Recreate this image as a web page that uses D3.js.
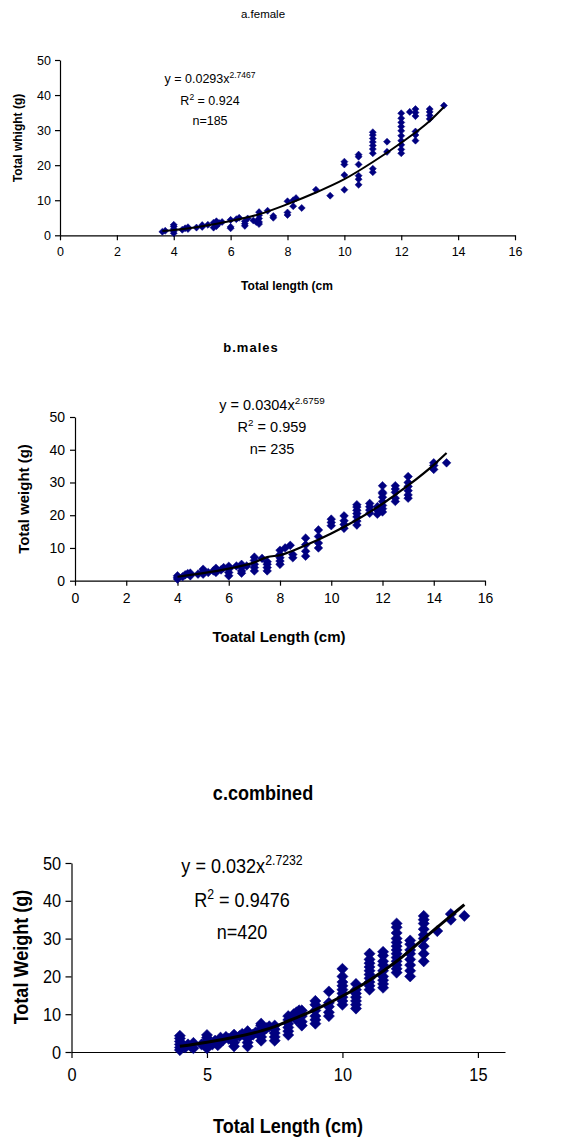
<!DOCTYPE html>
<html><head><meta charset="utf-8">
<script src="https://cdn.jsdelivr.net/npm/d3@7"></script>
<style>body{margin:0;background:#fff}svg{display:block}text{font-family:"Liberation Sans",Arial,sans-serif;fill:#000}</style>
</head><body><svg id="c" width="565" height="1143"></svg>
<script>
// ---------- DATA ----------
const xTicksAB = [0,2,4,6,8,10,12,14,16];
const xTicksC = [0,5,10,15];
const yTicks = [0,10,20,30,40,50];

// a. female: total length (cm), total weight (g)
const femaleLength = [3.6,3.7,4,4,4,4,4,4.3,4.4,4.5,4.5,4.8,5,5,5.2,5.4,5.4,5.5,5.5,5.6,5.7,6,6,6,6.2,6.3,6.5,6.5,6.5,6.6,6.8,6.9,7,7,7,7,7,7.3,7.5,7.5,8,8,8,8.2,8.2,8.3,8.5,9,9.5,10,10,10,10,10.5,10.5,10.5,10.5,10.5,10.5,11,11,11,11,11,11,11,11,11,11.5,11.5,12,12,12,12,12,12,12,12,12,12,12.3,12.5,12.5,12.5,12.5,12.5,12.5,13,13,13,13,13.5];
const femaleWeight = [1.0,1.3,0.6,1.2,1.8,2.5,3.0,1.6,2.0,1.8,2.3,2.2,2.4,2.9,3.0,2.2,3.6,2.6,4.0,3.5,3.8,2.0,2.4,4.4,4.6,5.0,2.7,3.3,4.0,4.8,4.2,3.8,3.2,3.8,4.8,5.7,6.6,7.0,5.0,5.5,5.8,6.5,9.7,8.3,10.0,10.6,7.8,13.0,11.3,13.0,17.2,20.2,21.0,14.4,16.0,17.0,20.2,22.4,23.0,18.0,19.0,23.4,24.6,25.6,26.6,27.6,28.6,29.4,23.8,26.7,23.4,24.5,25.8,27.0,28.4,29.8,31.0,32.2,33.4,34.8,35.2,27.0,28.6,29.6,34.0,35.0,36.0,33.2,34.2,35.2,36.0,37.0];
const femaleTrendX = [3.6,4,5,6,7,8,9,10,11,12,13,13.5];
const femaleTrendY = [1.2,1.5,2.6,4.1,6.0,8.9,12.2,16.0,20.9,26.4,32.6,36.6];

// b. males
const maleLength = [4,4,4,4.2,4.3,4.4,4.5,4.5,4.8,5,5,5,5.2,5.4,5.5,5.5,5.7,5.8,6,6,6,6,6.3,6.5,6.5,6.5,6.5,6.7,7,7,7,7,7,7.3,7.5,7.5,7.5,7.5,8,8,8,8,8,8.2,8.4,8.5,8.5,9,9,9,9,9.5,9.5,9.5,9.5,10,10,10,10.5,10.5,10.5,10.5,11,11,11,11,11,11,11,11.5,11.5,11.5,11.5,11.8,11.8,11.8,12,12,12,12,12,12,12,12,12.5,12.5,12.5,12.5,12.5,13,13,13,13,13,13,14,14,14,14.5];
const maleWeight = [0.5,1.0,1.5,1.2,1.8,2.2,1.5,2.3,2.0,2.0,2.8,3.5,2.5,3.0,2.5,3.8,3.3,4.0,1.5,2.5,3.5,4.4,4.5,2.3,3.0,4.0,5.0,4.5,3.0,4.0,5.0,6.2,7.2,6.8,3.0,4.0,5.0,5.8,5.0,6.0,7.0,8.0,9.3,10.0,10.8,7.0,8.0,7.5,9.0,11.0,13.0,10.0,11.5,13.5,15.5,16.8,17.8,18.8,16.0,17.2,18.3,19.8,17.0,18.2,19.5,20.5,21.5,22.5,23.2,20.6,21.6,22.6,23.6,20.3,21.5,22.6,21.0,22.0,23.0,24.2,25.5,26.6,27.0,29.0,24.2,25.2,27.0,28.0,29.0,25.2,26.2,27.5,28.8,30.0,31.8,34.0,35.2,36.0,36.0];
const maleTrendX = [4,5,6,7,7.5,8,9,10,11,12,13,14,14.5];
const maleTrendY = [1.2,2.3,3.7,5.6,7.2,7.8,10.8,14.4,18.6,23.5,29.1,35.4,39.0];

// c. combined
const combLength = [4,4,4,4,4,4,4.2,4.3,4.4,4.5,4.5,4.8,5,5,5,5,5,5.2,5.3,5.4,5.5,5.5,5.6,5.7,5.8,6,6,6,6,6.2,6.3,6.5,6.5,6.5,6.5,6.5,6.7,6.8,7,7,7,7,7,7,7.2,7.3,7.5,7.5,7.5,7.5,7.5,8,8,8,8,8,8,8.2,8.3,8.3,8.4,8.5,8.5,8.5,8.5,9,9,9,9,9,9,9.5,9.5,9.5,9.5,9.5,10,10,10,10,10,10,10,10,10,10.5,10.5,10.5,10.5,10.5,10.5,10.5,11,11,11,11,11,11,11,11,11,11,11.5,11.5,11.5,11.5,11.5,11.5,11.5,11.5,11.5,12,12,12,12,12,12,12,12,12,12,12,12,12,12.5,12.5,12.5,12.5,12.5,12.5,12.5,12.5,13,13,13,13,13,13,13,13,13,13.5,14,14,14.5];
const combWeight = [0.5,1.2,2.0,2.8,3.6,4.3,1.2,2.0,1.5,1.0,2.4,2.0,1.0,2.0,3.0,3.8,4.5,2.0,3.0,1.8,2.6,3.8,3.2,4.0,3.5,1.5,2.5,3.6,4.6,4.2,4.8,1.5,2.5,3.5,4.5,5.5,4.6,5.2,3.0,4.0,5.0,6.0,7.0,7.5,6.3,6.8,3.0,4.0,5.0,6.0,7.0,4.5,5.5,6.5,7.5,8.5,9.5,10.0,8.5,10.5,11.0,7.0,8.0,9.5,11.0,7.5,8.5,9.5,11.0,12.5,13.5,9.5,10.5,12.0,13.0,16.0,12.5,13.5,14.5,15.5,16.5,17.5,18.5,20.0,22.0,11.5,12.5,13.5,14.5,15.5,16.5,18.0,16.5,17.5,18.5,19.5,20.5,21.5,22.5,23.5,24.5,26.0,17.0,18.0,19.0,20.0,21.5,23.0,24.0,25.5,26.5,21.0,22.0,23.0,24.0,25.0,26.0,27.0,28.0,29.0,30.0,31.5,33.0,34.0,20.0,21.5,23.0,24.5,26.0,27.0,28.5,29.5,24.0,26.0,28.0,30.0,31.0,32.5,34.0,35.0,36.0,32.0,35.0,36.5,36.0];
const combTrendX = [4,5,6,7,7.5,8,9,10,11,12,13,14,14.5];
const combTrendY = [1.5,2.6,3.9,5.6,6.7,8.2,11.2,14.8,19.0,24.0,30.0,36.0,39.0];

// ---------- DRAW ----------
const svg = d3.select("#c");
const navy = "#000080";

function panel(o, xs, ys, tx, ty, xTicks) {
  const sq = o.sq || 1;
  const x = d3.scaleLinear().domain([0,16]).range([o.left, o.right]);
  const y = d3.scaleLinear().domain([0,50]).range([o.bottom, o.top]);
  const g = svg.append("g");
  const xa = g.append("g").attr("transform", `translate(0,${o.bottom})`)
    .call(d3.axisBottom(x).tickValues(xTicks).tickSize(o.tick).tickSizeOuter(0).tickPadding(o.xpad));
  const ya = g.append("g").attr("transform", `translate(${o.left},0)`)
    .call(d3.axisLeft(y).tickValues(yTicks).tickSize(o.tick).tickSizeOuter(0).tickPadding(o.ypad));
  [xa, ya].forEach(a => {
    a.selectAll("path,line").attr("stroke", "#000").attr("stroke-width", 1.2);
    a.selectAll("text").attr("font-size", o.tickFont).attr("fill", "#000")
      .attr("font-family", o.family).attr("transform", `scale(${sq},1)`);
  });
  const sym = d3.symbol().type(d3.symbolDiamond2).size(o.msize);
  g.append("g").selectAll("path").data(xs.map((v,i)=>[v, ys[i]])).join("path")
    .attr("d", sym).attr("transform", d => `translate(${x(d[0])},${y(d[1])})`)
    .attr("fill", navy).attr("stroke", navy).attr("stroke-width", 0.5);
  g.append("path").datum(tx.map((v,i)=>[v, ty[i]]))
    .attr("d", d3.line().x(d=>x(d[0])).y(d=>y(d[1])).curve(d3.curveMonotoneX))
    .attr("fill", "none").attr("stroke", "#000").attr("stroke-width", o.lw);
  const T = (px, py, rot) => g.append("g").attr("transform", `translate(${px},${py})${rot?" rotate(-90)":""} scale(${sq},1)`)
    .append("text").attr("text-anchor","middle").attr("font-family", o.family);
  T(o.titleX, o.titleY).attr("font-size", o.titleFont).attr("font-weight", o.titleWeight)
    .attr("letter-spacing", o.titleLS || 0).text(o.title);
  T(o.xlabX, o.xlabY).attr("font-size", o.labFont).attr("font-weight","bold").text(o.xlab);
  T(o.ylabX, o.ylabY, true).attr("font-size", o.labFont).attr("font-weight","bold").text(o.ylab);
  const e1 = T(o.eqX, o.eqY[0]).attr("font-size", o.eqFont);
  e1.append("tspan").text(o.eq[0]);
  e1.append("tspan").attr("dy", -o.eqFont*0.4).attr("font-size", o.eqFont*0.68).text(o.eq[1]);
  const e2 = T(o.eqX, o.eqY[1]).attr("font-size", o.eqFont);
  e2.append("tspan").text("R");
  e2.append("tspan").attr("dy", -o.eqFont*0.4).attr("font-size", o.eqFont*0.68).text("2");
  e2.append("tspan").attr("dy", o.eqFont*0.4).text(o.r2);
  T(o.eqX, o.eqY[2]).attr("font-size", o.eqFont).text(o.n);
}

const fam = "Liberation Sans, Arial, sans-serif";
panel({left:60, right:515, top:60, bottom:235.3, tick:5, xpad:7, ypad:4, tickFont:12.5, family:fam,
  msize:32, lw:2, title:"a.female", titleX:263, titleY:18, titleFont:11.5, titleWeight:"normal",
  xlab:"Total length (cm", xlabX:287, xlabY:290, ylab:"Total whight (g)", ylabX:22, ylabY:138, labFont:12,
  eq:["y = 0.0293x","2.7467"], r2:" = 0.924", n:"n=185", eqX:210, eqY:[83,105,125], eqFont:12.5},
  femaleLength, femaleWeight, femaleTrendX, femaleTrendY, xTicksAB);

panel({left:75, right:485, top:417, bottom:580.7, tick:5, xpad:7, ypad:5, tickFont:14, family:fam,
  msize:48, lw:2.2, title:"b.males", titleX:251, titleY:352, titleFont:13, titleWeight:"bold", titleLS:1,
  xlab:"Toatal Length (cm)", xlabX:279, xlabY:642, ylab:"Total weight (g)", ylabX:29, ylabY:499, labFont:15,
  eq:["y = 0.0304x","2.6759"], r2:" = 0.959", n:"n= 235", eqX:272, eqY:[410,432,454], eqFont:14.5},
  maleLength, maleWeight, maleTrendX, maleTrendY, xTicksAB);

panel({left:71.5, right:505, top:863, bottom:1052, tick:6, xpad:10, ypad:6, tickFont:19, family:fam, sq:0.86,
  msize:80, lw:3, title:"c.combined", titleX:263, titleY:800, titleFont:21, titleWeight:"bold",
  xlab:"Total Length (cm)", xlabX:288, xlabY:1133, ylab:"Total Weight (g)", ylabX:28, ylabY:957, labFont:21,
  eq:["y = 0.032x","2.7232"], r2:" = 0.9476", n:"n=420", eqX:242, eqY:[873,907,939], eqFont:21},
  combLength, combWeight, combTrendX, combTrendY, xTicksC);
</script></body></html>
